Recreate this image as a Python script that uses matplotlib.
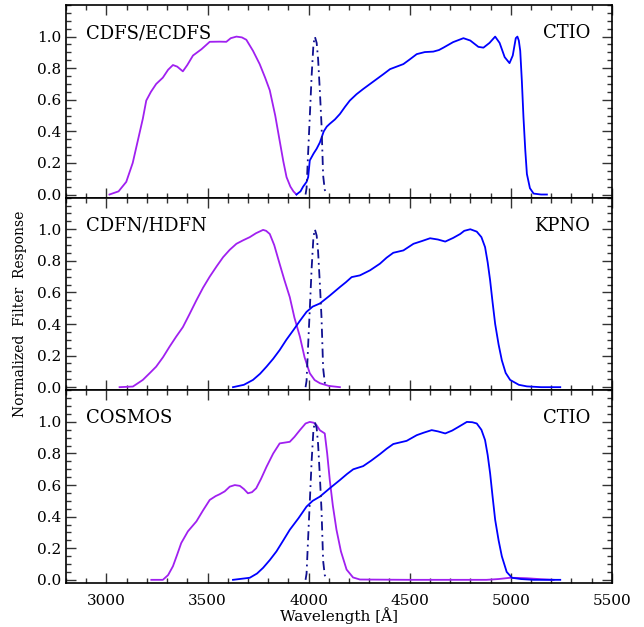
import matplotlib
matplotlib.use('Agg')
import matplotlib.pyplot as plt
from matplotlib.ticker import FixedLocator, MultipleLocator, FormatStrFormatter

plt.rcParams['font.family'] = 'DejaVu Serif'

# narrow-band filter (same in every panel)
wl_nb = [3985, 3990, 3998, 4008, 4015, 4024, 4031, 4040, 4047, 4056, 4064, 4072, 4080, 4090]
r_nb = [0, 0.04, 0.27, 0.55, 0.75, 0.95, 1.0, 0.96, 0.86, 0.65, 0.44, 0.12, 0.03, 0]

# CDFS/ECDFS (CTIO)
wl_u1 = [3015, 3060, 3098, 3130, 3155, 3180, 3197, 3220, 3246, 3279, 3305, 3329, 3350, 3378,
         3400, 3428, 3470, 3511, 3560, 3593, 3615, 3643, 3670, 3692, 3725, 3758, 3785, 3808,
         3835, 3857, 3875, 3891, 3910, 3925, 3940]
r_u1 = [0, 0.02, 0.08, 0.2, 0.34, 0.48, 0.595, 0.65, 0.70, 0.74, 0.79, 0.82, 0.81, 0.78,
        0.82, 0.88, 0.92, 0.967, 0.968, 0.967, 0.99, 1.0, 0.995, 0.98, 0.91, 0.826, 0.74, 0.66,
        0.50, 0.34, 0.21, 0.11, 0.05, 0.02, 0.0]
wl_b1 = [3940, 3960, 3973, 3990, 3998, 4006, 4025, 4040, 4056, 4075, 4090, 4105, 4130, 4155,
         4180, 4204, 4237, 4270, 4304, 4337, 4370, 4403, 4436, 4469, 4500, 4535, 4575, 4617,
         4645, 4667, 4715, 4766, 4800, 4840, 4865, 4895, 4923, 4945, 4970, 4994, 5010, 5025,
         5033, 5040, 5047, 5055, 5063, 5072, 5080, 5095, 5113, 5150, 5179]
r_b1 = [0, 0.02, 0.05, 0.08, 0.11, 0.216, 0.26, 0.29, 0.33, 0.40, 0.43, 0.448, 0.475, 0.51,
        0.555, 0.595, 0.635, 0.668, 0.70, 0.731, 0.762, 0.794, 0.81, 0.826, 0.855, 0.889, 0.902, 0.905,
        0.915, 0.93, 0.965, 0.99, 0.975, 0.935, 0.93, 0.96, 1.0, 0.96, 0.87, 0.832, 0.88, 0.99,
        1.0, 0.975, 0.91, 0.72, 0.49, 0.28, 0.13, 0.04, 0.006, 0.0, 0.0]

# CDFN/HDFN (KPNO)
wl_u2 = [3065, 3131, 3180, 3215, 3246, 3280, 3312, 3345, 3378, 3410, 3445, 3478, 3511, 3545,
         3577, 3610, 3643, 3676, 3709, 3740, 3775, 3790, 3808, 3830, 3857, 3880, 3907, 3930,
         3957, 3980, 4006, 4030, 4056, 4100, 4155]
r_u2 = [0, 0.004, 0.046, 0.09, 0.13, 0.19, 0.256, 0.32, 0.38, 0.46, 0.55, 0.63, 0.70, 0.765,
        0.823, 0.87, 0.908, 0.93, 0.95, 0.975, 0.996, 0.99, 0.97, 0.90, 0.78, 0.68, 0.57, 0.44,
        0.32, 0.19, 0.088, 0.045, 0.025, 0.008, 0.0]
wl_b2 = [3626, 3680, 3725, 3760, 3792, 3825, 3857, 3890, 3924, 3957, 3990, 4020, 4056, 4105,
         4155, 4185, 4213, 4254, 4304, 4353, 4386, 4419, 4469, 4519, 4560, 4601, 4640, 4676,
         4715, 4750, 4770, 4800, 4832, 4855, 4873, 4886, 4898, 4910, 4923, 4940, 4956, 4975,
         4997, 5040, 5080, 5150, 5245]
r_b2 = [0, 0.015, 0.046, 0.085, 0.13, 0.18, 0.235, 0.30, 0.36, 0.42, 0.477, 0.51, 0.53, 0.58,
        0.634, 0.665, 0.697, 0.708, 0.74, 0.782, 0.82, 0.851, 0.866, 0.908, 0.925, 0.943, 0.935, 0.922,
        0.945, 0.97, 0.99, 1.0, 0.985, 0.95, 0.887, 0.79, 0.677, 0.54, 0.40, 0.27, 0.17, 0.09,
        0.046, 0.015, 0.005, 0.0, 0.0]

# COSMOS (CTIO)
wl_u3 = [3222, 3279, 3305, 3329, 3350, 3370, 3403, 3445, 3478, 3511, 3540, 3560, 3585, 3610,
         3635, 3660, 3680, 3700, 3720, 3741, 3765, 3792, 3825, 3857, 3907, 3930, 3957, 3985,
         4006, 4025, 4039, 4056, 4080, 4092, 4105, 4120, 4138, 4160, 4188, 4220, 4254, 4500,
         4800, 4880, 4940, 4997, 5040, 5080, 5150, 5212]
r_u3 = [0, 0.0, 0.03, 0.086, 0.16, 0.233, 0.307, 0.37, 0.44, 0.506, 0.53, 0.542, 0.56, 0.59,
        0.60, 0.595, 0.575, 0.548, 0.555, 0.58, 0.64, 0.716, 0.80, 0.864, 0.874, 0.905, 0.948, 0.99,
        1.0, 0.995, 0.98, 0.947, 0.927, 0.80, 0.63, 0.47, 0.317, 0.18, 0.065, 0.015, 0.002, 0,
        0, 0, 0.005, 0.013, 0.012, 0.01, 0.004, 0]
wl_b3 = [3626, 3709, 3745, 3775, 3808, 3841, 3875, 3907, 3950, 3990, 4020, 4056, 4105, 4155,
         4190, 4221, 4270, 4310, 4353, 4386, 4419, 4485, 4535, 4570, 4609, 4640, 4676, 4710,
         4741, 4783, 4810, 4832, 4855, 4873, 4886, 4898, 4910, 4923, 4940, 4956, 4980, 5006,
         5050, 5113, 5245]
r_b3 = [0, 0.013, 0.04, 0.076, 0.125, 0.18, 0.25, 0.317, 0.39, 0.464, 0.50, 0.527, 0.58, 0.632,
        0.67, 0.70, 0.72, 0.755, 0.796, 0.83, 0.86, 0.88, 0.916, 0.932, 0.948, 0.94, 0.927, 0.945,
        0.968, 1.0, 0.998, 0.99, 0.95, 0.885, 0.79, 0.675, 0.53, 0.38, 0.25, 0.149, 0.05, 0.013,
        0.005, 0, 0]

fields = ['CDFS/ECDFS', 'CDFN/HDFN', 'COSMOS']
telescopes = ['CTIO', 'KPNO', 'CTIO']
u_curves = [(wl_u1, r_u1), (wl_u2, r_u2), (wl_u3, r_u3)]
b_curves = [(wl_b1, r_b1), (wl_b2, r_b2), (wl_b3, r_b3)]

fig, axes = plt.subplots(3, 1, sharex=True, figsize=(6.44, 6.27), dpi=100)
fig.subplots_adjust(left=0.1025, right=0.950, top=0.992, bottom=0.0702, hspace=0)

for i, ax in enumerate(axes):
    ax.plot(*u_curves[i], color='#a020f0', lw=1.3)
    ax.plot(*b_curves[i], color='#0000ff', lw=1.3)
    ax.plot(wl_nb, r_nb, color='#101090', lw=1.3, linestyle=(0, (5, 2.5, 1, 2.5)))

    ax.set_xlim(2800, 5500)
    ax.set_ylim(-0.02, 1.2)
    ax.yaxis.set_major_locator(FixedLocator([0.0, 0.2, 0.4, 0.6, 0.8, 1.0]))
    ax.yaxis.set_minor_locator(MultipleLocator(0.05))
    ax.yaxis.set_major_formatter(FormatStrFormatter('%.1f'))
    ax.xaxis.set_major_locator(MultipleLocator(500))
    ax.xaxis.set_minor_locator(MultipleLocator(100))
    ax.tick_params(which='both', direction='in', top=True, right=True, width=1.0,
                   labelsize=11, color='#333333')
    ax.tick_params(which='major', length=7)
    ax.tick_params(which='minor', length=3.6)
    ax.tick_params(axis='x', pad=8)
    for sp in ax.spines.values():
        sp.set_linewidth(1.2)

    ax.text(0.036, 0.828, fields[i], transform=ax.transAxes, fontsize=13, va='baseline')
    ax.text(0.960, 0.828, telescopes[i], transform=ax.transAxes, fontsize=13,
            va='baseline', ha='right')

axes[-1].set_xlabel('Wavelength [Å]', fontsize=11, labelpad=-1)
fig.text(0.031, 0.5, 'Normalized  Filter  Response', rotation=90, fontsize=10,
         ha='center', va='center')

plt.savefig('out.png', dpi=100)
